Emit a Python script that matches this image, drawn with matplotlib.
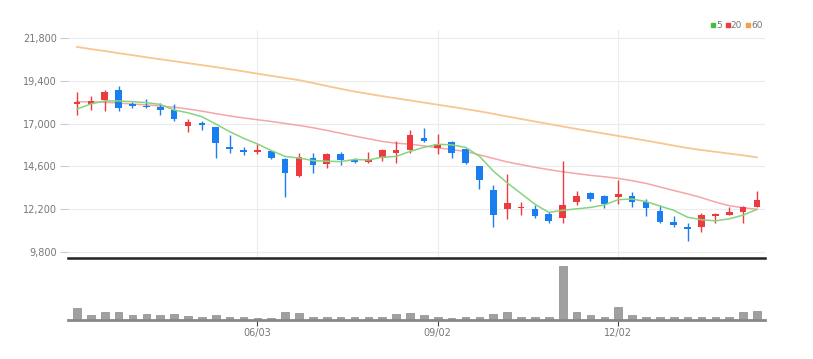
import matplotlib
matplotlib.use('Agg')
from matplotlib import pyplot as plt
from matplotlib.lines import Line2D
import numpy as np
import pandas as pd

plt.rcParams['font.family'] = ['Liberation Sans Narrow', 'DejaVu Sans']

# weekly candles
dates = pd.date_range('2019-03-04', periods=50, freq='W-MON')

open_ = [18100, 18100, 18350, 18900, 18100, 18000, 17950, 17750, 16850, 17050,
         16800, 15700, 15500, 15400, 15450, 15000, 14050, 15050, 14750, 15300,
         14950, 14850, 15050, 15350, 15500, 16200, 15650, 15950, 15550, 14600,
         13300, 12200, 12250, 12200, 11950, 11700, 12600, 13100, 12950, 12900,
         12950, 12600, 12100, 11500, 11200, 11200, 11800, 11900, 12050, 12350]
high = [18800, 18550, 18900, 19100, 18200, 18380, 18170, 18100, 17250, 17150,
        16800, 16350, 15700, 15850, 15480, 15050, 15350, 15350, 15350, 15400,
        15100, 15400, 15600, 16050, 16650, 16750, 16400, 16020, 15600, 14650,
        13550, 14150, 12600, 12450, 12050, 14900, 13200, 13150, 13000, 13850,
        13150, 12800, 12450, 11800, 11400, 12000, 12000, 12350, 12400, 13200]
low = [17480, 17750, 17700, 17700, 17850, 17900, 17480, 17150, 16550, 16650,
       15100, 15350, 15250, 15300, 15000, 12900, 14000, 14250, 14500, 14700,
       14800, 14800, 14900, 14800, 15350, 15950, 15300, 15050, 14750, 13350,
       11200, 11650, 11900, 11700, 11400, 11400, 12450, 12650, 12250, 12500,
       12350, 11800, 11450, 11200, 10400, 10950, 11400, 11850, 11400, 12300]
close = [18200, 18250, 18800, 17900, 18000, 17930, 17750, 17250, 17100, 16900,
         15900, 15600, 15400, 15500, 15050, 14250, 15150, 14700, 15300, 14950,
         14850, 15000, 15500, 15500, 16350, 16000, 15850, 15350, 14800, 13850,
         11850, 12550, 12350, 11800, 11550, 12450, 12950, 12750, 12500, 13050,
         12600, 12250, 11500, 11300, 11100, 11900, 11950, 12050, 12350, 12700]
volume = [35, 15, 23, 23, 15, 19, 14, 19, 11, 8,
          14, 9, 9, 5, 5, 23, 20, 10, 10, 10,
          8, 8, 10, 19, 20, 14, 10, 5, 8, 10,
          19, 25, 10, 10, 8, 162, 25, 14, 10, 38,
          14, 8, 8, 8, 10, 10, 10, 10, 23, 28]

ma5_head = [17820, 18100, 18270, 18270]
ma20 = [18230, 18220, 18200, 18150, 18100, 18050, 17990, 17920, 17820, 17700,
        17560, 17430, 17320, 17220, 17120, 17010, 16900, 16770, 16620, 16460,
        16300, 16150, 16000, 15900, 15850, 15750, 15640, 15540, 15440, 15250,
        15050, 14850, 14700, 14550, 14420, 14300, 14200, 14100, 14020, 13930,
        13800, 13650, 13450, 13250, 13060, 12850, 12600, 12400, 12280, 12200]
ma60 = [21300, 21180, 21070, 20950, 20840, 20720, 20610, 20500, 20390, 20280,
        20170, 20050, 19930, 19800, 19680, 19560, 19440, 19280, 19110, 18950,
        18800, 18670, 18540, 18420, 18300, 18180, 18060, 17940, 17820, 17690,
        17550, 17400, 17260, 17120, 16980, 16840, 16700, 16570, 16440, 16310,
        16180, 16050, 15910, 15770, 15630, 15520, 15420, 15320, 15220, 15110]

yticks = [9800, 12200, 14600, 17000, 19400, 21800]
tick_idx = [13, 26, 39]

up_col = '#ec3a3f'
down_col = '#1a7df0'

ma5 = pd.Series(close).rolling(5).mean().values
ma5[:4] = ma5_head

x = np.arange(len(close))
o = np.array(open_)
c = np.array(close)
up = c >= o
colors = np.where(up, up_col, down_col)

fig = plt.figure(figsize=(8.13, 3.59), dpi=100)
ax = fig.add_axes([0.0836, 0.2813, 0.8574, 0.6351])
axv = fig.add_axes([0.0836, 0.1086, 0.8574, 0.1616])

# price panel
ax.vlines(x, low, high, colors=colors, linewidth=1, zorder=3)
body_lo = np.minimum(o, c)
body_h = np.maximum(np.abs(c - o), 40)
ax.bar(x, body_h, bottom=body_lo, width=0.48, color=colors, zorder=4)
ax.plot(x, ma5, color='#86d47f', linewidth=1.1, zorder=5)
ax.plot(x, ma20, color='#f5a6a6', linewidth=1.1, zorder=2)
ax.plot(x, ma60, color='#f8c690', linewidth=1.3, zorder=2)

ax.set_xlim(-0.65, 49.58)
ax.set_ylim(9464, 22249)
ax.set_yticks(yticks)
ax.set_yticklabels([f'{v:,}' for v in yticks])
ax.set_xticks(tick_idx)
ax.tick_params(axis='x', length=0, labelbottom=False)
ax.tick_params(axis='y', length=6, color='#cccccc', labelsize=7, labelcolor='#777777', pad=2)
ax.grid(True, color='#ececec', linewidth=0.8)
ax.set_axisbelow(True)
for s in ['top', 'right', 'left']:
    ax.spines[s].set_visible(False)
ax.spines['bottom'].set_color('#222222')
ax.spines['bottom'].set_linewidth(1.8)

leg_handles = [Line2D([], [], marker='s', linestyle='', color=col, markersize=3.5)
               for col in ['#3fbf3f', '#ec3a3f', '#f5a04a']]
fig.legend(leg_handles, ['5', '20', '60'], loc='upper right', bbox_to_anchor=(0.948, 0.965),
           ncol=3, frameon=False, fontsize=6.5, handletextpad=0.0, columnspacing=0.3,
           handlelength=0.7, labelcolor='#777777')

# volume panel
axv.bar(x, volume, width=0.55, color='#a0a0a0', edgecolor='#8a8a8a', linewidth=0.5)
axv.set_xlim(-0.65, 49.58)
axv.set_ylim(0, 174)
axv.set_yticks([])
axv.set_xticks(tick_idx)
axv.set_xticklabels([dates[i].strftime('%m/%d') for i in tick_idx])
axv.tick_params(axis='x', length=4, color='#444444', labelsize=7, labelcolor='#777777', pad=2)
for s in ['top', 'right', 'left']:
    axv.spines[s].set_visible(False)
axv.spines['bottom'].set_color('#888888')
axv.spines['bottom'].set_linewidth(2)

fig.savefig('out.png', dpi=100)
